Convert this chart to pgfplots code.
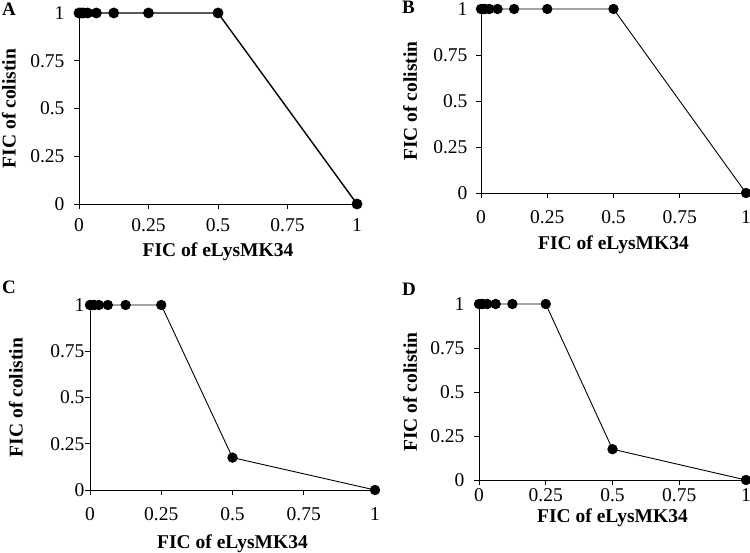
\documentclass[border=0pt]{standalone}
\usepackage{pgfplots}
\pgfplotsset{compat=1.18}
\usepackage{fontspec}
\setmainfont{Liberation Serif}
\pgfplotstableread{
x y
0 1
0.0078125 1
0.015625 1
0.03125 1
0.0625 1
0.125 1
0.25 1
0.5 1
1 0
}\dataAB
\pgfplotstableread{
x y
0 1
0.0078125 1
0.015625 1
0.03125 1
0.0625 1
0.125 1
0.25 1
0.5 0.175
1 0
}\dataCD
\pgfplotsset{
  ficstyle/.style={
    scale only axis,
    axis lines*=left,
    axis line style={black, line width=0.9pt},
    xmin=0, xmax=1, ymin=0, ymax=1,
    xtick={0,0.25,0.5,0.75,1},
    ytick={0,0.25,0.5,0.75,1},
    tick align=outside,
    major tick length=5pt,
    every tick/.style={black, line width=0.9pt},
    /pgf/number format/assume math mode=true,
    tick label style={font=\fontsize{19.5}{22}\selectfont},
    xlabel={FIC of eLysMK34},
    ylabel={FIC of colistin},
    clip=false,
    anchor=south west,
  },
  xl/.style={every axis x label/.style={at={(axis description cs:0.5,-#1)}, anchor=center, font=\bfseries\fontsize{19.5}{22}\selectfont}},
  yl/.style={every axis y label/.style={at={(axis description cs:-#1,0.5)}, anchor=center, rotate=90, font=\bfseries\fontsize{19.5}{22}\selectfont}},
  ficplot/.style={black, line width=0.9pt, mark=*, mark size=4.7pt, mark options={fill=black}},
}
\begin{document}
\begin{tikzpicture}
\useasboundingbox (0pt,0pt) rectangle (750pt,552pt);
% A
\begin{axis}[ficstyle, at={(79pt,348pt)}, width=278pt, height=191pt,
  xl=0.25, yl=0.252,
  xticklabel style={yshift=-6pt}, yticklabel style={xshift=-6pt}]
\addplot[ficplot, line width=1.4pt] table[x=x,y=y] {\dataAB};
\end{axis}
% B
\begin{axis}[ficstyle, at={(481pt,359pt)}, width=265pt, height=184pt,
  xl=0.280, yl=0.268,
  xticklabel style={yshift=-9pt}, yticklabel style={xshift=-5pt}]
\addplot[ficplot] table[x=x,y=y] {\dataAB};
\end{axis}
% C
\begin{axis}[ficstyle, at={(90pt,62pt)}, width=285pt, height=185pt,
  xl=0.29, yl=0.260,
  xticklabel style={yshift=-9pt}, yticklabel style={xshift=3pt}]
\addplot[ficplot] table[x=x,y=y] {\dataCD};
\end{axis}
% D
\begin{axis}[ficstyle, at={(479pt,72pt)}, width=267pt, height=176pt,
  xl=0.217, yl=0.258,
  xticklabel style={yshift=0pt}, yticklabel style={xshift=-6pt}]
\addplot[ficplot] table[x=x,y=y] {\dataCD};
\end{axis}
\node[font=\bfseries\fontsize{19}{22}\selectfont, anchor=north west, inner sep=0pt] at (2pt,549pt) {A};
\node[font=\bfseries\fontsize{19}{22}\selectfont, anchor=north west, inner sep=0pt] at (402pt,551pt) {B};
\node[font=\bfseries\fontsize{19}{22}\selectfont, anchor=north west, inner sep=0pt] at (2pt,271pt) {C};
\node[font=\bfseries\fontsize{19}{22}\selectfont, anchor=north west, inner sep=0pt] at (402pt,269pt) {D};
\end{tikzpicture}
\end{document}
